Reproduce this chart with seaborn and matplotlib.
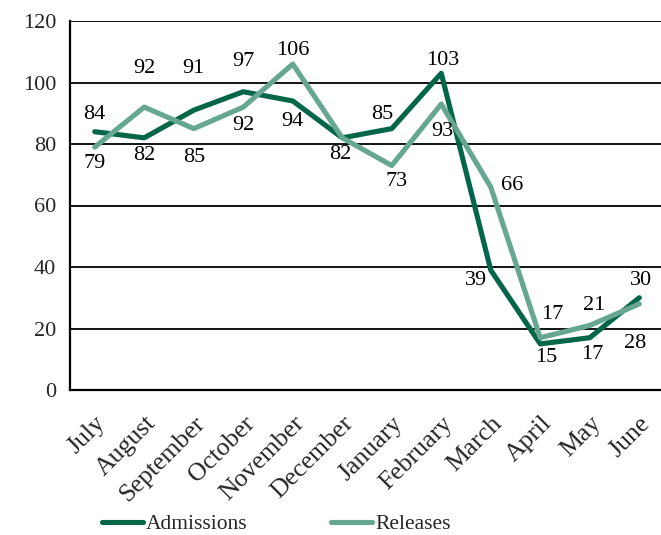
import matplotlib
matplotlib.use("Agg")
import matplotlib.pyplot as plt
import seaborn as sns
import pandas as pd
import numpy as np
from matplotlib.lines import Line2D

months = ["July", "August", "September", "October", "November", "December",
          "January", "February", "March", "April", "May", "June"]
admissions = [84, 82, 91, 97, 94, 82, 85, 103, 39, 15, 17, 30]
releases = [79, 92, 85, 92, 106, 82, 73, 93, 66, 17, 21, 28]
y_ticks = [0, 20, 40, 60, 80, 100, 120]

# label offsets (pixels, label centre relative to point; +y = downwards); None = no label
adm_off = [(0, -17), (0, 18), (0, -42), (0, -30), (0, 21), (-2, 17),
           (-9, -14), (1, -13), (-15, 10), (6, 14), (2, 17), (2, -17)]
rel_off = [(0, 16), (0, -39), (0, 29), (0, 18), (0, -14), None,
           (5, 16), (1, 27), (21, -2), (12, -23), (4, -20), (-4, 40)]

sns.set_theme(style="white")
plt.rcParams['font.family'] = ['Liberation Serif', 'DejaVu Serif']

dark = "#046649"
light = "#66a792"
FS = 16

df = pd.DataFrame({
    "month": months * 2,
    "value": admissions + releases,
    "series": ["Admissions"] * len(months) + ["Releases"] * len(months),
})

fig = plt.figure(figsize=(6.61, 5.35), dpi=100)
ax = fig.add_axes([70 / 661, 145 / 535, 594 / 661, 369 / 535])

sns.lineplot(data=df, x="month", y="value", hue="series",
             palette={"Admissions": dark, "Releases": light},
             linewidth=3.7, ax=ax, legend=False, sort=False)

ax.set_xlim(-0.5, 11.5)
ax.set_ylim(0, 120)
ax.set_yticks(y_ticks)
ax.set_yticklabels([str(t) for t in y_ticks], fontsize=FS)
ax.yaxis.grid(True, color="black", linewidth=1.3)
ax.set_axisbelow(True)
ax.set_xlabel("")
ax.set_ylabel("")

ax.set_xticks(np.arange(len(months)))
ax.set_xticklabels(months, rotation=45, ha="right", rotation_mode="anchor", fontsize=18.5)
ax.tick_params(axis="x", which="major", length=0, pad=16)
ax.set_xticks(np.arange(-0.5, len(months), 1.0), minor=True)
ax.tick_params(axis="x", which="minor", length=8, width=1.3, color="black", direction="out")
ax.tick_params(axis="y", length=6, width=1.3, color="black", direction="out", pad=4)

for s in ["top", "right"]:
    ax.spines[s].set_visible(False)
for s in ["left", "bottom"]:
    ax.spines[s].set_color("black")
    ax.spines[s].set_linewidth(1.6)

def place(vals, offs):
    for i, (v, o) in enumerate(zip(vals, offs)):
        if o is None:
            continue
        ax.annotate(str(v), (i, v), xytext=(o[0] * 0.72, -o[1] * 0.72),
                    textcoords="offset points", ha="center", va="center",
                    fontsize=FS, color="black")

place(admissions, adm_off)
place(releases, rel_off)

handles = [Line2D([], [], color=dark, linewidth=3.7, solid_capstyle="round"),
           Line2D([], [], color=light, linewidth=3.7, solid_capstyle="round")]
fig.legend(handles, ["Admissions", "Releases"], loc="center", ncol=2,
           bbox_to_anchor=(0.418, 0.02), frameon=False, fontsize=15.5,
           handlelength=1.9, handletextpad=0.15, columnspacing=3.9)

fig.savefig("out.png", dpi=100)
